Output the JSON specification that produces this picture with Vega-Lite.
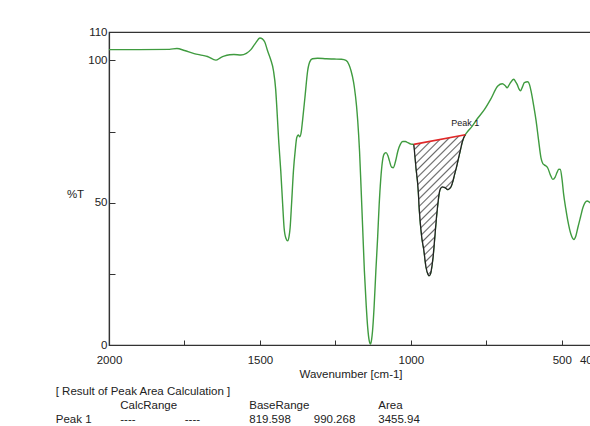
{
  "$schema": "https://vega.github.io/schema/vega-lite/v6.json",
  "background": "white",
  "padding": {"left": 55, "top": 25, "right": 0, "bottom": 0},
  "bounds": "flush",
  "spacing": 40,
  "config": {
    "font": "Liberation Sans",
    "view": {"stroke": null},
    "axis": {"labelFontSize": 11.5, "labelColor": "#222", "titleFontSize": 11.5, "titleFontWeight": "normal", "titleColor": "#222", "domainColor": "#333", "domainWidth": 1.2, "tickColor": "#333", "grid": false}
  },
  "datasets": {
    "spectrum": [
      {"w": 2000, "t": 103.8}, {"w": 1900, "t": 103.8}, {"w": 1800, "t": 103.9}, {"w": 1775, "t": 104.2}, {"w": 1750, "t": 103.5},
      {"w": 1718, "t": 102.4}, {"w": 1690, "t": 101.8}, {"w": 1674, "t": 101.4}, {"w": 1646, "t": 100.1}, {"w": 1630, "t": 101.0},
      {"w": 1619, "t": 101.5}, {"w": 1600, "t": 102.0}, {"w": 1586, "t": 102.1}, {"w": 1563, "t": 101.9}, {"w": 1545, "t": 102.5},
      {"w": 1530, "t": 103.8}, {"w": 1514, "t": 106.2}, {"w": 1500, "t": 107.9}, {"w": 1492, "t": 107.6}, {"w": 1484, "t": 106.5},
      {"w": 1475, "t": 103.5}, {"w": 1465, "t": 100.5}, {"w": 1455, "t": 96.3}, {"w": 1448, "t": 90}, {"w": 1444, "t": 83.4},
      {"w": 1438, "t": 72}, {"w": 1431, "t": 61.2}, {"w": 1425, "t": 50}, {"w": 1420, "t": 41.2}, {"w": 1414, "t": 37.5},
      {"w": 1408, "t": 36.6}, {"w": 1403, "t": 38.5}, {"w": 1400, "t": 41.2}, {"w": 1395, "t": 50}, {"w": 1389, "t": 61.2},
      {"w": 1383, "t": 68.5}, {"w": 1378, "t": 72.9}, {"w": 1373, "t": 73.8}, {"w": 1368, "t": 73.2}, {"w": 1363, "t": 75},
      {"w": 1359, "t": 78.7}, {"w": 1350, "t": 88}, {"w": 1342, "t": 96.3}, {"w": 1335, "t": 99.5}, {"w": 1326, "t": 100.6},
      {"w": 1309, "t": 100.8}, {"w": 1280, "t": 100.6}, {"w": 1254, "t": 100.5}, {"w": 1230, "t": 100.4}, {"w": 1215, "t": 100},
      {"w": 1205, "t": 98.5}, {"w": 1198, "t": 96.3}, {"w": 1190, "t": 92.5}, {"w": 1187, "t": 90.4}, {"w": 1180, "t": 84},
      {"w": 1176, "t": 78.7}, {"w": 1170, "t": 68}, {"w": 1165, "t": 55.3}, {"w": 1160, "t": 42}, {"w": 1154, "t": 26},
      {"w": 1148, "t": 14}, {"w": 1143, "t": 6.1}, {"w": 1138, "t": 1.5}, {"w": 1134, "t": 0.3}, {"w": 1130, "t": 2},
      {"w": 1127, "t": 4.9}, {"w": 1122, "t": 13}, {"w": 1116, "t": 26}, {"w": 1110, "t": 38}, {"w": 1105, "t": 49.4},
      {"w": 1100, "t": 58}, {"w": 1094, "t": 64.7}, {"w": 1088, "t": 67.2}, {"w": 1082, "t": 67.6}, {"w": 1076, "t": 66.5},
      {"w": 1071, "t": 64.7}, {"w": 1064, "t": 62.5}, {"w": 1058, "t": 62.3}, {"w": 1051, "t": 64.5}, {"w": 1043, "t": 68.2},
      {"w": 1035, "t": 70.5}, {"w": 1027, "t": 71.5}, {"w": 1018, "t": 71.5}, {"w": 1010, "t": 71.1}, {"w": 1000, "t": 70.6},
      {"w": 990.268, "t": 70.5}, {"w": 982.8, "t": 62.1}, {"w": 976, "t": 55}, {"w": 971.7, "t": 47}, {"w": 964, "t": 38},
      {"w": 957.2, "t": 33.5}, {"w": 950, "t": 27.5}, {"w": 944, "t": 25}, {"w": 940, "t": 24.3}, {"w": 935, "t": 25},
      {"w": 930.6, "t": 27.5}, {"w": 926, "t": 31.5}, {"w": 922, "t": 36.4}, {"w": 916, "t": 44}, {"w": 911, "t": 49.3},
      {"w": 906, "t": 53.5}, {"w": 902, "t": 55}, {"w": 895, "t": 55.6}, {"w": 889, "t": 55.4}, {"w": 883, "t": 55},
      {"w": 877.6, "t": 54.6}, {"w": 872, "t": 55}, {"w": 866.7, "t": 55.7}, {"w": 861, "t": 57.5}, {"w": 855.7, "t": 59.8},
      {"w": 849, "t": 62.5}, {"w": 842.4, "t": 65.6}, {"w": 836, "t": 68.5}, {"w": 831, "t": 70.9}, {"w": 826, "t": 72.6},
      {"w": 819.598, "t": 73.9}, {"w": 810, "t": 75.3}, {"w": 800, "t": 76.5}, {"w": 780, "t": 79.5}, {"w": 756, "t": 82.8},
      {"w": 735, "t": 86.5}, {"w": 712, "t": 91}, {"w": 697, "t": 91.8}, {"w": 688, "t": 91.2}, {"w": 681, "t": 90.4},
      {"w": 675, "t": 91.3}, {"w": 670, "t": 92.2}, {"w": 659, "t": 93.4}, {"w": 653, "t": 92.5}, {"w": 648, "t": 91.6},
      {"w": 642, "t": 90}, {"w": 637, "t": 89.3}, {"w": 630, "t": 90.8}, {"w": 624, "t": 92.2}, {"w": 613, "t": 92.5},
      {"w": 607, "t": 91.5}, {"w": 602, "t": 89.3}, {"w": 593, "t": 84}, {"w": 585, "t": 78.7}, {"w": 577, "t": 72},
      {"w": 569, "t": 65.8}, {"w": 563, "t": 63.8}, {"w": 558, "t": 63.3}, {"w": 547, "t": 62.3}, {"w": 538, "t": 59.8},
      {"w": 530, "t": 58.2}, {"w": 522, "t": 59}, {"w": 516, "t": 60.6}, {"w": 510, "t": 61.8}, {"w": 505, "t": 61.7},
      {"w": 499, "t": 58}, {"w": 494, "t": 53}, {"w": 487, "t": 48}, {"w": 480, "t": 43.6}, {"w": 470, "t": 39},
      {"w": 460, "t": 37.1}, {"w": 453, "t": 38.5}, {"w": 447, "t": 41.2}, {"w": 438, "t": 45}, {"w": 430, "t": 48.3},
      {"w": 423, "t": 50}, {"w": 416, "t": 50.6}, {"w": 410, "t": 50.3}, {"w": 403, "t": 49.7}, {"w": 400, "t": 49.5}
    ],
    "baseline": [{"w1": 990.268, "t1": 70.5, "w2": 819.598, "t2": 73.9}],
    "peaklabel": [{"w": 820, "t": 78, "label": "Peak 1"}],
    "table": [
      {"row": 0, "col": 0, "label": "[ Result of Peak Area Calculation ]"},
      {"row": 1, "col": 1, "label": "CalcRange"},
      {"row": 1, "col": 3, "label": "BaseRange"},
      {"row": 1, "col": 5, "label": "Area"},
      {"row": 2, "col": 0, "label": "Peak 1"},
      {"row": 2, "col": 1, "label": "----"},
      {"row": 2, "col": 2, "label": "----"},
      {"row": 2, "col": 3, "label": "819.598"},
      {"row": 2, "col": 4, "label": "990.268"},
      {"row": 2, "col": 5, "label": "3455.94"}
    ]
  },
  "vconcat": [
    {
      "width": 483,
      "height": 313,
      "view": {"stroke": "#333", "strokeWidth": 1.2},
      "layer": [
        {
          "data": {"name": "spectrum"},
          "mark": {"type": "line", "color": "#3f9b3f", "strokeWidth": 1.4, "interpolate": "monotone"},
          "encoding": {
            "x": {"field": "w", "type": "quantitative", "scale": {"domain": [400, 2000], "reverse": true, "nice": false, "zero": false},
              "axis": {"title": "Wavenumber [cm-1]", "values": [2000, 1750, 1500, 1250, 1000, 750, 500, 400], "labelExpr": "(datum.value % 500 == 0 || datum.value == 400) ? format(datum.value, 'd') : ''", "tickSize": -5, "labelPadding": 14.5, "labelFlush": false, "labelOverlap": false, "titlePadding": 2,
                "labelOffset": {"condition": {"test": "datum.value == 400", "value": -3}, "value": 0}}},
            "y": {"field": "t", "type": "quantitative", "scale": {"domain": [0, 110], "nice": false, "zero": true},
              "axis": {"title": "%T", "values": [0, 25, 50, 75, 100, 110], "labelExpr": "(datum.value == 25 || datum.value == 75) ? '' : format(datum.value, 'd')", "tickSize": -6, "labelPadding": 8, "labelOverlap": false, "titleAngle": 0, "titleAlign": "center", "titleBaseline": "middle", "titleX": -34, "titleY": 162}}
          }
        },
        {
          "data": {"name": "spectrum"},
          "transform": [{"filter": "datum.w >= 819.598 && datum.w <= 990.268"}],
          "mark": {"type": "line", "stroke": "#222", "strokeWidth": 1.3, "interpolate": "monotone",
            "fill": {"gradient": "linear", "x1": 0, "y1": 0, "x2": 0.438, "y2": 1.204, "stops": [
              {"offset": 0, "color": "#666"}, {"offset": 0.008, "color": "#fff"}, {"offset": 0.032, "color": "#fff"},
              {"offset": 0.04, "color": "#666"}, {"offset": 0.048, "color": "#fff"}, {"offset": 0.072, "color": "#fff"},
              {"offset": 0.08, "color": "#666"}, {"offset": 0.088, "color": "#fff"}, {"offset": 0.112, "color": "#fff"},
              {"offset": 0.12, "color": "#666"}, {"offset": 0.128, "color": "#fff"}, {"offset": 0.152, "color": "#fff"},
              {"offset": 0.16, "color": "#666"}, {"offset": 0.168, "color": "#fff"}, {"offset": 0.192, "color": "#fff"},
              {"offset": 0.2, "color": "#666"}, {"offset": 0.208, "color": "#fff"}, {"offset": 0.232, "color": "#fff"},
              {"offset": 0.24, "color": "#666"}, {"offset": 0.248, "color": "#fff"}, {"offset": 0.272, "color": "#fff"},
              {"offset": 0.28, "color": "#666"}, {"offset": 0.288, "color": "#fff"}, {"offset": 0.312, "color": "#fff"},
              {"offset": 0.32, "color": "#666"}, {"offset": 0.328, "color": "#fff"}, {"offset": 0.352, "color": "#fff"},
              {"offset": 0.36, "color": "#666"}, {"offset": 0.368, "color": "#fff"}, {"offset": 0.392, "color": "#fff"},
              {"offset": 0.4, "color": "#666"}, {"offset": 0.408, "color": "#fff"}, {"offset": 0.432, "color": "#fff"},
              {"offset": 0.44, "color": "#666"}, {"offset": 0.448, "color": "#fff"}, {"offset": 0.472, "color": "#fff"},
              {"offset": 0.48, "color": "#666"}, {"offset": 0.488, "color": "#fff"}, {"offset": 0.512, "color": "#fff"},
              {"offset": 0.52, "color": "#666"}, {"offset": 0.528, "color": "#fff"}, {"offset": 0.552, "color": "#fff"},
              {"offset": 0.56, "color": "#666"}, {"offset": 0.568, "color": "#fff"}, {"offset": 0.592, "color": "#fff"},
              {"offset": 0.6, "color": "#666"}, {"offset": 0.608, "color": "#fff"}, {"offset": 0.632, "color": "#fff"},
              {"offset": 0.64, "color": "#666"}, {"offset": 0.648, "color": "#fff"}, {"offset": 0.672, "color": "#fff"},
              {"offset": 0.68, "color": "#666"}, {"offset": 0.688, "color": "#fff"}, {"offset": 0.712, "color": "#fff"},
              {"offset": 0.72, "color": "#666"}, {"offset": 0.728, "color": "#fff"}, {"offset": 0.752, "color": "#fff"},
              {"offset": 0.76, "color": "#666"}, {"offset": 0.768, "color": "#fff"}, {"offset": 0.792, "color": "#fff"},
              {"offset": 0.8, "color": "#666"}, {"offset": 0.808, "color": "#fff"}, {"offset": 0.832, "color": "#fff"},
              {"offset": 0.84, "color": "#666"}, {"offset": 0.848, "color": "#fff"}, {"offset": 0.872, "color": "#fff"},
              {"offset": 0.88, "color": "#666"}, {"offset": 0.888, "color": "#fff"}, {"offset": 0.912, "color": "#fff"},
              {"offset": 0.92, "color": "#666"}, {"offset": 0.928, "color": "#fff"}, {"offset": 0.952, "color": "#fff"},
              {"offset": 0.96, "color": "#666"}, {"offset": 0.968, "color": "#fff"}, {"offset": 0.992, "color": "#fff"},
              {"offset": 1, "color": "#666"}
            ]}},
          "encoding": {
            "x": {"field": "w", "type": "quantitative"},
            "y": {"field": "t", "type": "quantitative"}
          }
        },
        {
          "data": {"name": "baseline"},
          "mark": {"type": "rule", "color": "#e02828", "strokeWidth": 1.6},
          "encoding": {
            "x": {"field": "w1", "type": "quantitative"},
            "x2": {"field": "w2"},
            "y": {"field": "t1", "type": "quantitative"},
            "y2": {"field": "t2"}
          }
        },
        {
          "data": {"name": "peaklabel"},
          "mark": {"type": "text", "fontSize": 9, "color": "#222", "align": "center", "baseline": "middle"},
          "encoding": {
            "x": {"field": "w", "type": "quantitative"},
            "y": {"field": "t", "type": "quantitative"},
            "text": {"field": "label"}
          }
        }
      ]
    },
    {
      "width": 483,
      "height": 42,
      "view": {"stroke": null},
      "data": {"name": "table"},
      "mark": {"type": "text", "align": "left", "baseline": "middle", "fontSize": 11.5, "color": "#222"},
      "encoding": {
        "x": {"field": "col", "type": "quantitative", "scale": {"domain": [0.826, 8.314], "nice": false, "zero": false}, "axis": null},
        "y": {"field": "row", "type": "ordinal", "axis": null},
        "text": {"field": "label"}
      }
    }
  ]
}
